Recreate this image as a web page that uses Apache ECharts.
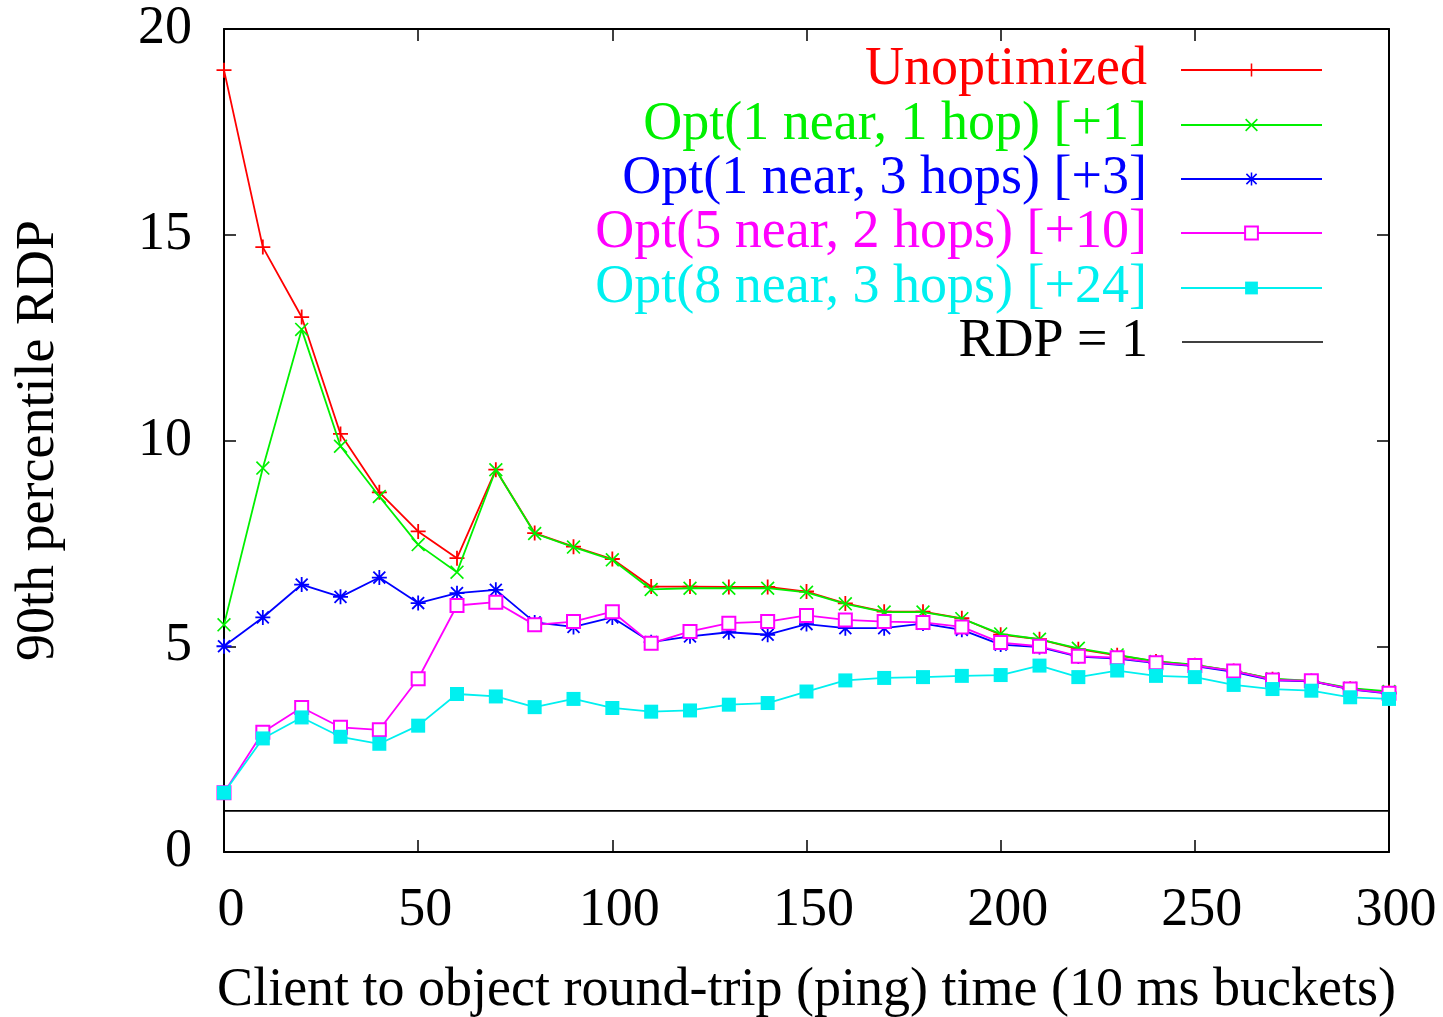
<!DOCTYPE html>
<html style="height: 100%">
<head>
    <meta charset="utf-8">
</head>
<body style="height: 100%; margin: 0; background: #fff">
    <div id="container" style="width: 1443px; height: 1017px"></div>
    <script type="text/javascript" src="https://cdn.jsdelivr.net/npm/echarts/dist/echarts.min.js"></script>
    <script type="text/javascript">
var buckets = [0, 10, 20, 30, 40, 50, 60, 70, 80, 90, 100, 110, 120, 130, 140, 150,
    160, 170, 180, 190, 200, 210, 220, 230, 240, 250, 260, 270, 280, 290, 300];
var unoptimized = [19.0, 14.7, 13.0, 10.16, 8.74, 7.79, 7.14, 9.29, 7.75, 7.42, 7.12, 6.45, 6.45, 6.44, 6.44, 6.33,
    6.04, 5.84, 5.84, 5.68, 5.28, 5.17, 4.93, 4.78, 4.63, 4.54, 4.40, 4.20, 4.15, 3.97, 3.88];
var opt1near1hop = [5.52, 9.33, 12.7, 9.86, 8.64, 7.47, 6.80, 9.29, 7.74, 7.41, 7.10, 6.38, 6.41, 6.41, 6.41, 6.31,
    6.03, 5.83, 5.83, 5.67, 5.30, 5.17, 4.95, 4.79, 4.63, 4.55, 4.40, 4.21, 4.16, 3.98, 3.90];
var opt1near3hops = [5.0, 5.70, 6.50, 6.20, 6.67, 6.05, 6.29, 6.37, 5.58, 5.47, 5.70, 5.10, 5.24, 5.34, 5.28, 5.54,
    5.44, 5.44, 5.55, 5.40, 5.04, 4.98, 4.75, 4.70, 4.59, 4.52, 4.38, 4.17, 4.15, 3.95, 3.85];
var opt5near2hops = [1.44, 2.91, 3.51, 3.03, 2.97, 4.21, 5.99, 6.07, 5.52, 5.60, 5.84, 5.07, 5.36, 5.56, 5.60, 5.75,
    5.64, 5.60, 5.58, 5.47, 5.09, 5.00, 4.76, 4.72, 4.60, 4.53, 4.40, 4.18, 4.16, 3.96, 3.86];
var opt8near3hops = [1.44, 2.76, 3.27, 2.80, 2.63, 3.07, 3.84, 3.78, 3.52, 3.72, 3.50, 3.41, 3.44, 3.58, 3.62, 3.90,
    4.17, 4.23, 4.25, 4.28, 4.30, 4.53, 4.25, 4.41, 4.28, 4.25, 4.06, 3.96, 3.92, 3.76, 3.72];
var baselineX = [0, 300];
var baselineY = [1, 1];

var seriesNames = ['Unoptimized', 'Opt(1 near, 1 hop) [+1]', 'Opt(1 near, 3 hops) [+3]',
    'Opt(5 near, 2 hops) [+10]', 'Opt(8 near, 3 hops) [+24]', 'RDP = 1'];
var seriesColors = ['#ff0000', '#00f000', '#0000ff', '#ff00ff', '#00f0f0', '#000000'];

var FONT = '"Liberation Serif", "Times New Roman", serif';

// gnuplot point types drawn as filled outlines
var PLUS = 'path://M4.4,0H5.6V4.4H10V5.6H5.6V10H4.4V5.6H0V4.4H4.4Z';
var CROSS = 'path://M0,0.85L0.85,0L10,9.15L9.15,10ZM9.15,0L10,0.85L0.85,10L0,9.15Z';
var STAR = 'path://M4.4,0H5.6V4.4H10V5.6H5.6V10H4.4V5.6H0V4.4H4.4Z' +
    'M0.6,1.45L1.45,0.6L9.4,8.55L8.55,9.4ZM8.55,0.6L9.4,1.45L1.45,9.4L0.6,8.55Z';
var BAR = 'path://M0,0H100V1H0Z';

function zip(xs, ys) {
    var res = [];
    for (var i = 0; i < xs.length; i++) {
        res.push([xs[i], ys[i]]);
    }
    return res;
}

var dom = document.getElementById("container");
var myChart = echarts.init(dom, null, {renderer: 'canvas'});

function lineSeries(idx, values, symbol, size, xs) {
    return {
        name: seriesNames[idx],
        type: 'line',
        data: zip(xs || buckets, values),
        symbol: symbol,
        symbolSize: size,
        showSymbol: symbol !== 'none',
        lineStyle: {color: seriesColors[idx], width: 1.8},
        itemStyle: {color: seriesColors[idx], borderColor: seriesColors[idx], borderWidth: symbol === 'emptyRect' ? 1.6 : 0},
        emphasis: {disabled: true},
        z: 2 + idx
    };
}

var rowY = [70, 125, 179, 233, 288, 342];
var legends = [];
for (var i = 0; i < seriesNames.length; i++) {
    var last = i === seriesNames.length - 1;
    legends.push({
        data: [last ? {name: seriesNames[i], icon: BAR} : seriesNames[i]],
        right: 120,
        top: rowY[i] - 27,
        padding: 0,
        align: 'right',
        itemWidth: 141,
        itemHeight: last ? 1.6 : 16,
        selectedMode: false,
        textStyle: {
            color: seriesColors[i],
            fontFamily: FONT,
            fontSize: 54,
            lineHeight: 54,
            padding: [0, 29, 0, 0]
        }
    });
}

var tickStyle = {show: true, inside: true, length: 12, lineStyle: {color: '#000', width: 1.5}};
var lineStyle = {show: true, onZero: false, lineStyle: {color: '#000', width: 2}};

option = {
    backgroundColor: '#fff',
    animation: false,
    grid: {left: 224, right: 54, top: 29, bottom: 165, outerBoundsMode: 'none', containLabel: false},
    legend: legends,
    xAxis: [{
        type: 'value',
        position: 'bottom',
        min: 0,
        max: 300,
        interval: 50,
        axisLine: lineStyle,
        axisTick: tickStyle,
        splitLine: {show: false},
        axisLabel: {
            color: '#000',
            fontFamily: FONT,
            fontSize: 54,
            margin: 32,
            padding: [0, 0, 0, 14],
            showMinLabel: true,
            showMaxLabel: true
        },
        name: 'Client to object round-trip (ping) time (10 ms buckets)',
        nameLocation: 'middle',
        nameGap: 112,
        nameTextStyle: {color: '#000', fontFamily: FONT, fontSize: 54}
    }, {
        type: 'value',
        position: 'top',
        min: 0,
        max: 300,
        interval: 50,
        axisLine: lineStyle,
        axisTick: tickStyle,
        axisLabel: {show: false},
        splitLine: {show: false}
    }],
    yAxis: [{
        type: 'value',
        position: 'left',
        min: 0,
        max: 20,
        interval: 5,
        axisLine: lineStyle,
        axisTick: tickStyle,
        splitLine: {show: false},
        axisLabel: {
            color: '#000',
            fontFamily: FONT,
            fontSize: 54,
            margin: 32
        },
        name: '90th percentile RDP',
        nameLocation: 'middle',
        nameGap: 158,
        nameTextStyle: {color: '#000', fontFamily: FONT, fontSize: 54}
    }, {
        type: 'value',
        position: 'right',
        min: 0,
        max: 20,
        interval: 5,
        axisLine: lineStyle,
        axisTick: tickStyle,
        axisLabel: {show: false},
        splitLine: {show: false}
    }],
    series: [
        lineSeries(0, unoptimized, PLUS, 15),
        lineSeries(1, opt1near1hop, CROSS, 14),
        lineSeries(2, opt1near3hops, STAR, 15),
        lineSeries(3, opt5near2hops, 'emptyRect', 13),
        lineSeries(4, opt8near3hops, 'rect', 14),
        lineSeries(5, baselineY, 'none', 0, baselineX)
    ]
};
if (option && typeof option === "object") {
    myChart.setOption(option, true);
}
    </script>
</body>
</html>
